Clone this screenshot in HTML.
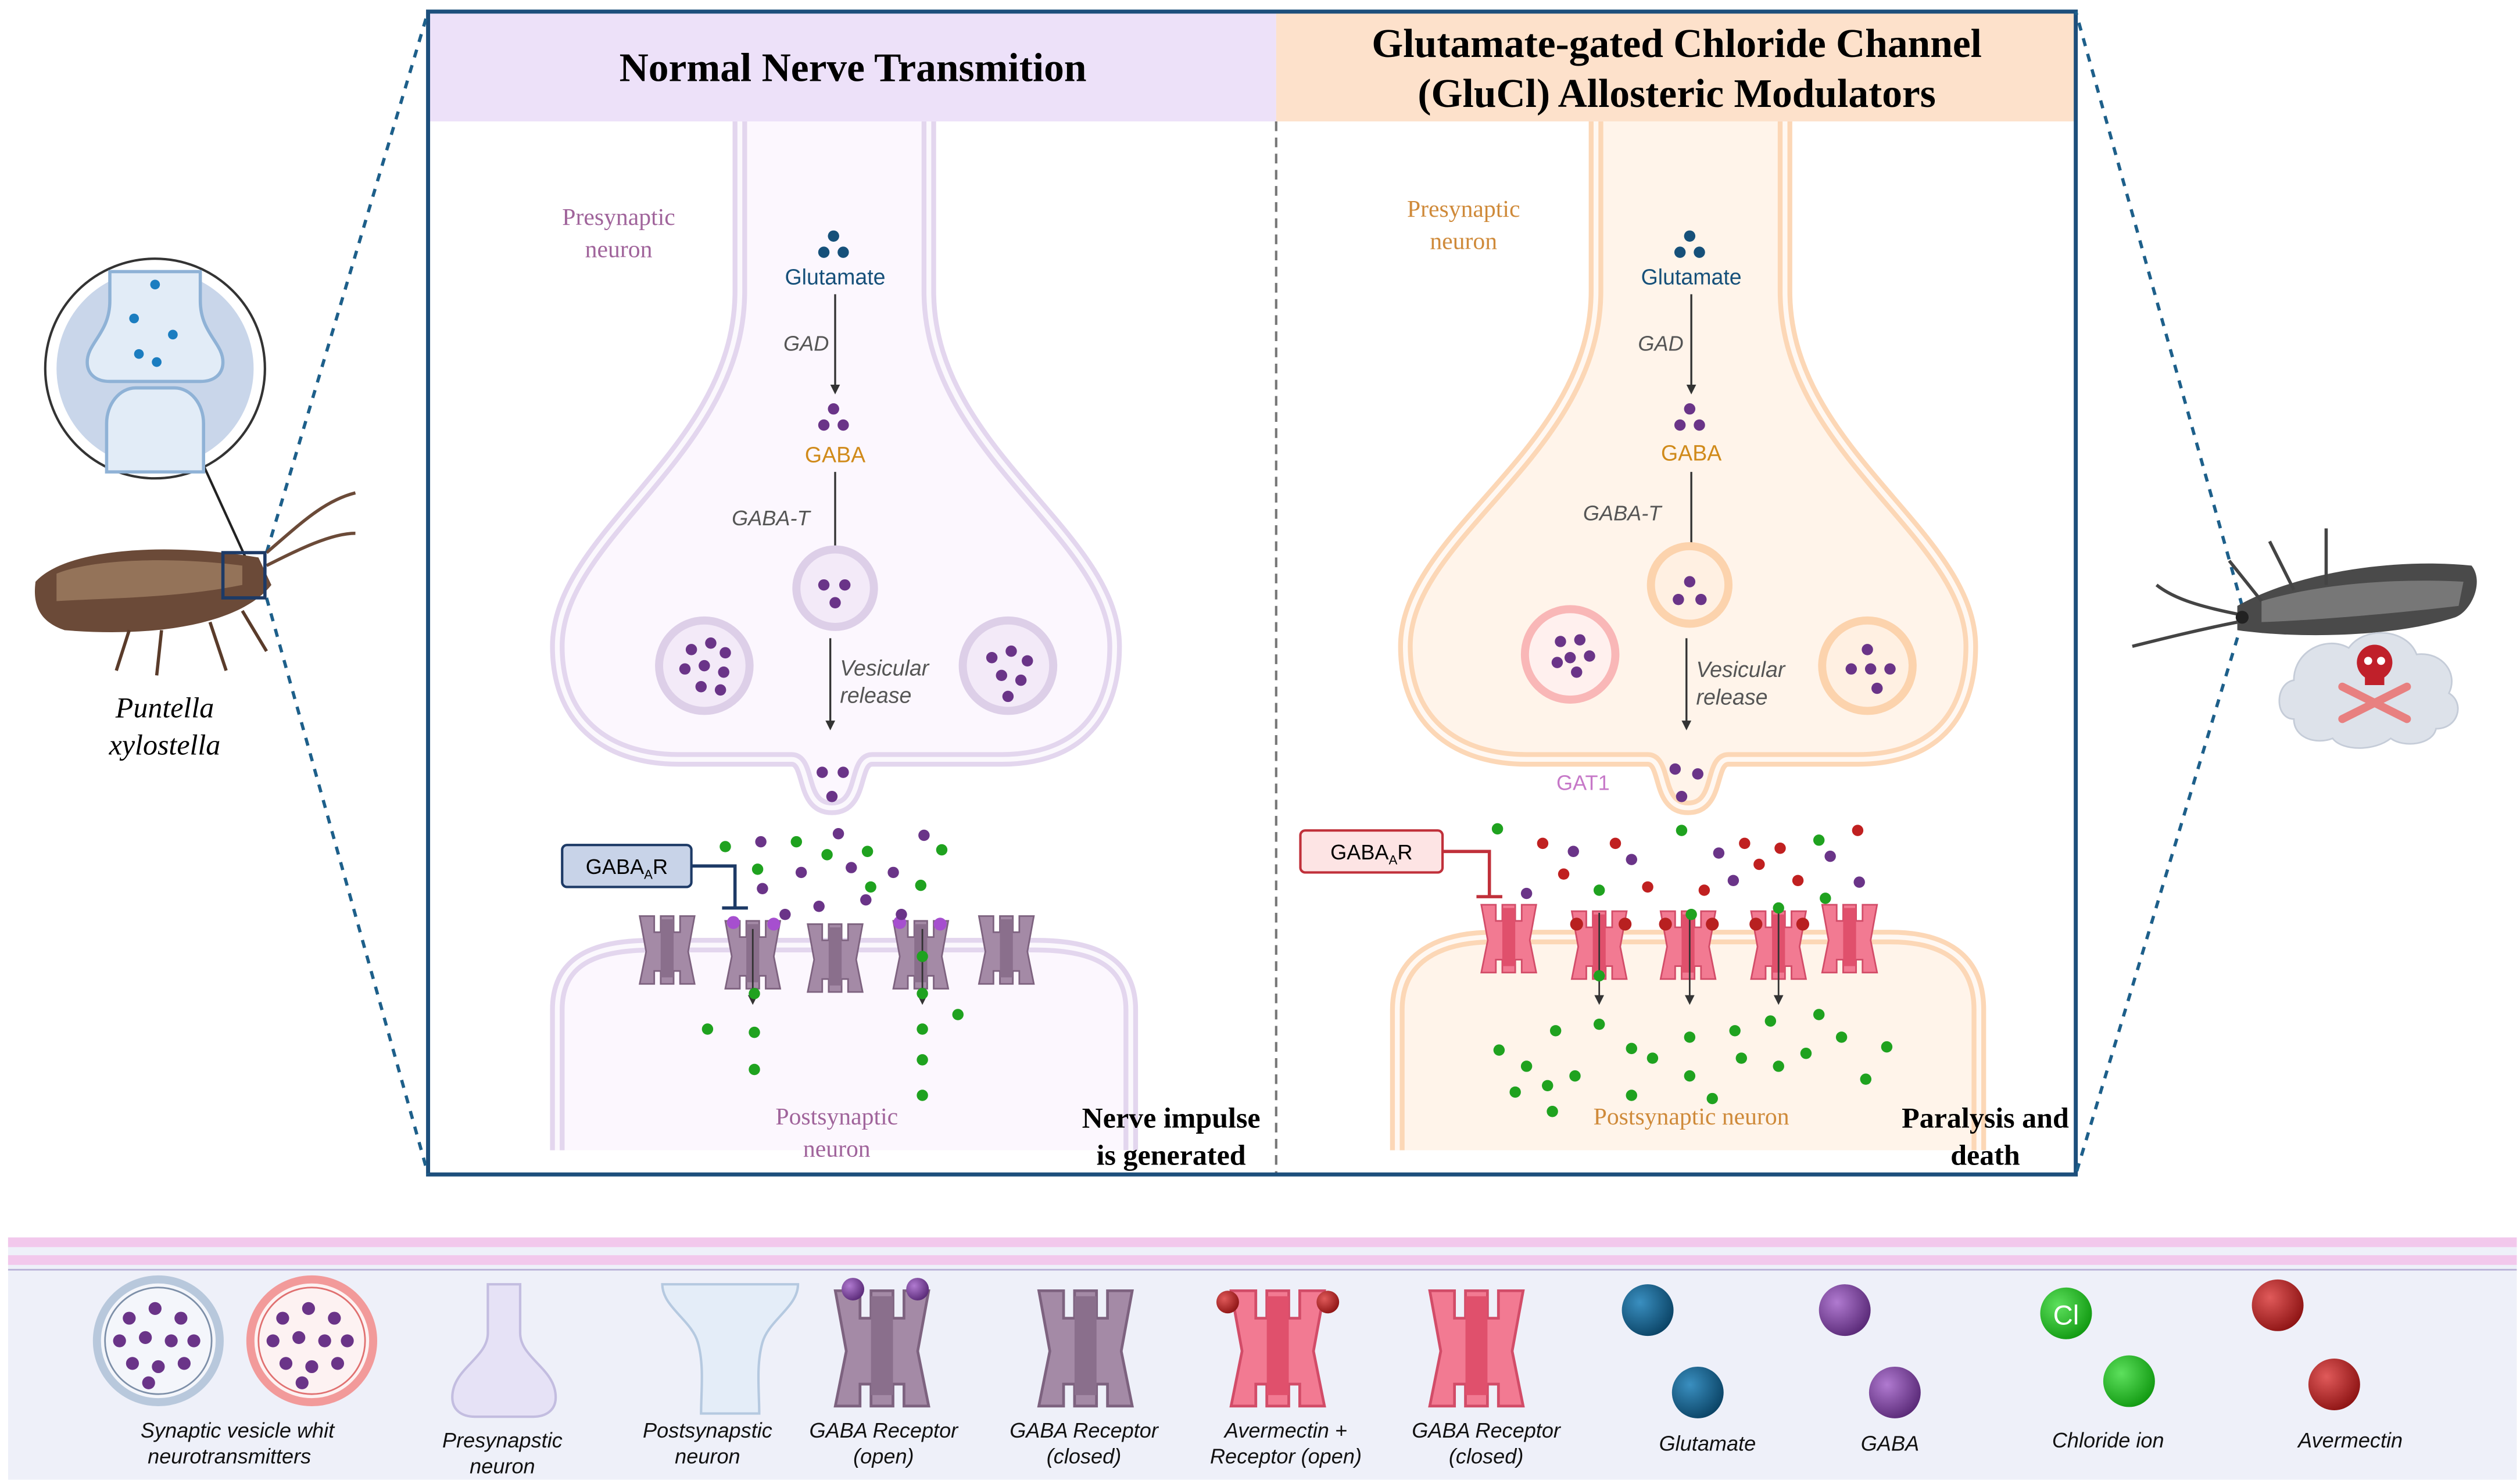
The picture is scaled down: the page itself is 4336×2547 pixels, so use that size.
<!DOCTYPE html>
<html><head><meta charset="utf-8"><style>
html,body{margin:0;padding:0;background:#fff;}
svg{display:block;}
text{font-family:"Liberation Sans",sans-serif;}
.serif{font-family:"Liberation Serif",serif;}
</style></head><body>
<svg width="4336" height="2547" viewBox="0 0 1560 916" xmlns="http://www.w3.org/2000/svg">
<defs>
<radialGradient id="gb" cx="35%" cy="35%" r="70%"><stop offset="0" stop-color="#3a8fc0"/><stop offset="1" stop-color="#0b4466"/></radialGradient>
<radialGradient id="gp" cx="35%" cy="35%" r="70%"><stop offset="0" stop-color="#b07ad0"/><stop offset="1" stop-color="#5a2a78"/></radialGradient>
<radialGradient id="gg" cx="35%" cy="35%" r="70%"><stop offset="0" stop-color="#5de05d"/><stop offset="1" stop-color="#129a12"/></radialGradient>
<radialGradient id="gr" cx="35%" cy="35%" r="70%"><stop offset="0" stop-color="#e05a5a"/><stop offset="1" stop-color="#8e1414"/></radialGradient>
<g id="rc"><path d="M-17,-20 h9 v10 h4 v-10 h8 v10 h4 v-10 h9 l-4,22 l4,20 h-9 v-8 h-4 v8 h-8 v-8 h-4 v8 h-9 l4,-20 z" fill="#a48aa6" stroke="#7d627f" stroke-width="1"/><rect x="-4" y="-18" width="8" height="36" fill="#8a6f8c"/></g>
<g id="rr"><path d="M-17,-20 h9 v10 h4 v-10 h8 v10 h4 v-10 h9 l-4,22 l4,20 h-9 v-8 h-4 v8 h-8 v-8 h-4 v8 h-9 l4,-20 z" fill="#f27a92" stroke="#d24c68" stroke-width="1"/><rect x="-4" y="-18" width="8" height="36" fill="#e0506c"/></g>
<path id="preL" d="M458,75 L458,180 C458,280 345,330 345,400 C345,450 380,470 420,470 L490,470 C502,470 495,500 515,500 C535,500 528,470 540,470 L620,470 C660,470 690,450 690,400 C690,330 575,280 575,180 L575,75"/>
<path id="postL" d="M345,712 L345,625 C345,592 372,585 405,585 L640,585 C672,585 700,592 700,625 L700,712"/>
<path id="preR" d="M988,75 L988,180 C988,280 870,330 870,400 C870,450 905,470 945,470 L1020,470 C1032,470 1025,500 1045,500 C1065,500 1058,470 1070,470 L1150,470 C1190,470 1220,450 1220,400 C1220,330 1105,280 1105,180 L1105,75"/>
<path id="postR" d="M865,712 L865,625 C865,592 892,580 925,580 L1170,580 C1202,580 1225,592 1225,625 L1225,712"/>
</defs>

<!-- main box -->
<rect x="265" y="7" width="525" height="68" fill="#ede1f9"/>
<rect x="790" y="7" width="495" height="68" fill="#fde1cb"/>
<rect x="265" y="75" width="1020" height="652" fill="#fff"/>
<text x="528" y="50" class="serif" font-size="25" font-weight="bold" text-anchor="middle" fill="#000">Normal Nerve Transmition</text>
<text x="1038" y="35" class="serif" font-size="25" font-weight="bold" text-anchor="middle">Glutamate-gated Chloride Channel</text>
<text x="1038" y="66" class="serif" font-size="25" font-weight="bold" text-anchor="middle">(GluCl) Allosteric Modulators</text>

<!-- neurons -->
<use href="#preL" fill="#fcf7fe" stroke="#e3d6ee" stroke-width="9"/>
<use href="#preL" fill="none" stroke="#fbf8fd" stroke-width="3"/>
<use href="#postL" fill="#fcf7fe" stroke="#e3d6ee" stroke-width="9"/>
<use href="#postL" fill="none" stroke="#fbf8fd" stroke-width="3"/>
<use href="#preR" fill="#fff4ea" stroke="#fcd7b6" stroke-width="9"/>
<use href="#preR" fill="none" stroke="#fff8f2" stroke-width="3"/>
<use href="#postR" fill="#fff4ea" stroke="#fcd7b6" stroke-width="9"/>
<use href="#postR" fill="none" stroke="#fff8f2" stroke-width="3"/>

<line x1="790" y1="75" x2="790" y2="727" stroke="#777" stroke-width="1.5" stroke-dasharray="6,4"/>
<rect x="265" y="7" width="1020" height="720" fill="none" stroke="#1d4f7c" stroke-width="2.5"/>

<!-- left pathway -->
<g fill="#16507a"><circle cx="516" cy="146" r="3.5"/><circle cx="510" cy="156" r="3.5"/><circle cx="522" cy="156" r="3.5"/></g>
<text x="517" y="176" font-size="13.5" text-anchor="middle" fill="#16507a">Glutamate</text>
<text x="485" y="217" font-size="13" font-style="italic" fill="#555">GAD</text>
<line x1="517" y1="182" x2="517" y2="240" stroke="#333" stroke-width="1.2"/><path d="M514,238 l3,6 l3,-6z" fill="#333"/>
<g fill="#6a3488"><circle cx="516" cy="253" r="3.5"/><circle cx="510" cy="263" r="3.5"/><circle cx="522" cy="263" r="3.5"/></g>
<text x="517" y="286" font-size="13.5" text-anchor="middle" fill="#d08a1a">GABA</text>
<text x="453" y="325" font-size="13" font-style="italic" fill="#555">GABA-T</text>
<line x1="517" y1="292" x2="517" y2="348" stroke="#333" stroke-width="1.2"/><path d="M514,346 l3,6 l3,-6z" fill="#333"/>
<circle cx="517" cy="364" r="24" fill="#f3eaf8" stroke="#ddcfe8" stroke-width="5"/>
<g fill="#6a3488"><circle cx="510" cy="362" r="3.5"/><circle cx="523" cy="362" r="3.5"/><circle cx="517" cy="373" r="3.5"/></g>
<circle cx="436" cy="412" r="28" fill="#f3eaf8" stroke="#ddcfe8" stroke-width="5"/>
<g fill="#6a3488"><circle cx="428" cy="402" r="3.5"/><circle cx="440" cy="398" r="3.5"/><circle cx="449" cy="404" r="3.5"/><circle cx="436" cy="412" r="3.5"/><circle cx="424" cy="414" r="3.5"/><circle cx="448" cy="416" r="3.5"/><circle cx="434" cy="425" r="3.5"/><circle cx="446" cy="427" r="3.5"/></g>
<circle cx="624" cy="412" r="28" fill="#f3eaf8" stroke="#ddcfe8" stroke-width="5"/>
<g fill="#6a3488"><circle cx="614" cy="407" r="3.5"/><circle cx="626" cy="403" r="3.5"/><circle cx="636" cy="409" r="3.5"/><circle cx="620" cy="418" r="3.5"/><circle cx="632" cy="421" r="3.5"/><circle cx="624" cy="431" r="3.5"/></g>
<line x1="514" y1="395" x2="514" y2="448" stroke="#333" stroke-width="1.2"/><path d="M511,446 l3,6 l3,-6z" fill="#333"/>
<text x="520" y="418" font-size="13.5" font-style="italic" fill="#555">Vesicular</text>
<text x="520" y="435" font-size="13.5" font-style="italic" fill="#555">release</text>
<text x="383" y="139" class="serif" font-size="15" text-anchor="middle" fill="#a0649b">Presynaptic</text>
<text x="383" y="159" class="serif" font-size="15" text-anchor="middle" fill="#a0649b">neuron</text>
<text x="518" y="696" class="serif" font-size="15" text-anchor="middle" fill="#a0649b">Postsynaptic</text>
<text x="518" y="716" class="serif" font-size="15" text-anchor="middle" fill="#a0649b">neuron</text>
<text x="725" y="698" class="serif" font-size="18" font-weight="bold" text-anchor="middle">Nerve impulse</text>
<text x="725" y="721" class="serif" font-size="18" font-weight="bold" text-anchor="middle">is generated</text>
<rect x="348" y="523" width="80" height="26" rx="3" fill="#c8d3e8" stroke="#1d3a66" stroke-width="1.5"/>
<text x="388" y="541" font-size="13" text-anchor="middle">GABA<tspan font-size="8" dy="3">A</tspan><tspan dy="-3">R</tspan></text>
<path d="M428,536 H455 V562 M447,562 H463" fill="none" stroke="#1d3a66" stroke-width="2"/>
<use href="#rc" x="413" y="587"/><use href="#rc" x="466" y="590"/><use href="#rc" x="517" y="592"/><use href="#rc" x="570" y="590"/><use href="#rc" x="623" y="587"/>
<g fill="#a64fcf"><circle cx="454" cy="571" r="4"/><circle cx="479" cy="572" r="4"/><circle cx="557" cy="571" r="4"/><circle cx="582" cy="572" r="4"/></g>
<line x1="466" y1="575" x2="466" y2="618" stroke="#333"/><path d="M463,616 l3,6 l3,-6z" fill="#333"/>
<line x1="571" y1="575" x2="571" y2="618" stroke="#333"/><path d="M568,616 l3,6 l3,-6z" fill="#333"/>
<g fill="#6a3488"><circle cx="509" cy="478" r="3.5"/><circle cx="522" cy="478" r="3.5"/><circle cx="515" cy="493" r="3.5"/><circle cx="471" cy="521" r="3.5"/><circle cx="519" cy="516" r="3.5"/><circle cx="572" cy="517" r="3.5"/><circle cx="496" cy="540" r="3.5"/><circle cx="527" cy="537" r="3.5"/><circle cx="553" cy="540" r="3.5"/><circle cx="472" cy="550" r="3.5"/><circle cx="536" cy="557" r="3.5"/><circle cx="507" cy="561" r="3.5"/><circle cx="558" cy="566" r="3.5"/><circle cx="486" cy="566" r="3.5"/></g>
<g fill="#1fa21f"><circle cx="449" cy="524" r="3.5"/><circle cx="493" cy="521" r="3.5"/><circle cx="537" cy="527" r="3.5"/><circle cx="583" cy="526" r="3.5"/><circle cx="469" cy="538" r="3.5"/><circle cx="512" cy="529" r="3.5"/><circle cx="570" cy="548" r="3.5"/><circle cx="539" cy="549" r="3.5"/><circle cx="467" cy="615" r="3.5"/><circle cx="438" cy="637" r="3.5"/><circle cx="467" cy="639" r="3.5"/><circle cx="467" cy="662" r="3.5"/><circle cx="571" cy="592" r="3.5"/><circle cx="571" cy="615" r="3.5"/><circle cx="593" cy="628" r="3.5"/><circle cx="571" cy="637" r="3.5"/><circle cx="571" cy="656" r="3.5"/><circle cx="571" cy="678" r="3.5"/></g>

<!-- right pathway -->
<g fill="#16507a"><circle cx="1046" cy="146" r="3.5"/><circle cx="1040" cy="156" r="3.5"/><circle cx="1052" cy="156" r="3.5"/></g>
<text x="1047" y="176" font-size="13.5" text-anchor="middle" fill="#16507a">Glutamate</text>
<text x="1014" y="217" font-size="13" font-style="italic" fill="#555">GAD</text>
<line x1="1047" y1="182" x2="1047" y2="240" stroke="#333" stroke-width="1.2"/><path d="M1044,238 l3,6 l3,-6z" fill="#333"/>
<g fill="#6a3488"><circle cx="1046" cy="253" r="3.5"/><circle cx="1040" cy="263" r="3.5"/><circle cx="1052" cy="263" r="3.5"/></g>
<text x="1047" y="285" font-size="13.5" text-anchor="middle" fill="#d08a1a">GABA</text>
<text x="980" y="322" font-size="13" font-style="italic" fill="#555">GABA-T</text>
<line x1="1047" y1="292" x2="1047" y2="348" stroke="#333" stroke-width="1.2"/><path d="M1044,346 l3,6 l3,-6z" fill="#333"/>
<circle cx="1046" cy="362" r="24" fill="#fff0e2" stroke="#fcd3ad" stroke-width="5"/>
<g fill="#6a3488"><circle cx="1046" cy="360" r="3.5"/><circle cx="1039" cy="371" r="3.5"/><circle cx="1053" cy="371" r="3.5"/></g>
<circle cx="972" cy="405" r="28" fill="#fff0ee" stroke="#f9b7b7" stroke-width="5"/>
<g fill="#6a3488"><circle cx="966" cy="397" r="3.5"/><circle cx="978" cy="396" r="3.5"/><circle cx="984" cy="406" r="3.5"/><circle cx="972" cy="407" r="3.5"/><circle cx="964" cy="410" r="3.5"/><circle cx="976" cy="416" r="3.5"/></g>
<circle cx="1156" cy="412" r="28" fill="#fff0e2" stroke="#fcd3ad" stroke-width="5"/>
<g fill="#6a3488"><circle cx="1156" cy="402" r="3.5"/><circle cx="1146" cy="414" r="3.5"/><circle cx="1158" cy="414" r="3.5"/><circle cx="1170" cy="414" r="3.5"/><circle cx="1162" cy="426" r="3.5"/></g>
<line x1="1044" y1="395" x2="1044" y2="448" stroke="#333" stroke-width="1.2"/><path d="M1041,446 l3,6 l3,-6z" fill="#333"/>
<text x="1050" y="419" font-size="13.5" font-style="italic" fill="#555">Vesicular</text>
<text x="1050" y="436" font-size="13.5" font-style="italic" fill="#555">release</text>
<text x="906" y="134" class="serif" font-size="15" text-anchor="middle" fill="#cf8a3a">Presynaptic</text>
<text x="906" y="154" class="serif" font-size="15" text-anchor="middle" fill="#cf8a3a">neuron</text>
<text x="980" y="489" font-size="13" text-anchor="middle" fill="#c678c8">GAT1</text>
<text x="1047" y="696" class="serif" font-size="15" text-anchor="middle" fill="#cf8a3a">Postsynaptic neuron</text>
<text x="1229" y="698" class="serif" font-size="18" font-weight="bold" text-anchor="middle">Paralysis and</text>
<text x="1229" y="721" class="serif" font-size="18" font-weight="bold" text-anchor="middle">death</text>
<rect x="805" y="514" width="88" height="26" rx="3" fill="#fde4e4" stroke="#c0303a" stroke-width="1.5"/>
<text x="849" y="532" font-size="13" text-anchor="middle">GABA<tspan font-size="8" dy="3">A</tspan><tspan dy="-3">R</tspan></text>
<path d="M893,527 H922 V555 M914,555 H930" fill="none" stroke="#c0303a" stroke-width="2"/>
<use href="#rr" x="934" y="580"/><use href="#rr" x="990" y="584"/><use href="#rr" x="1045" y="584"/><use href="#rr" x="1101" y="584"/><use href="#rr" x="1145" y="580"/>
<g fill="#b82020"><circle cx="976" cy="572" r="4"/><circle cx="1006" cy="572" r="4"/><circle cx="1031" cy="572" r="4"/><circle cx="1060" cy="572" r="4"/><circle cx="1087" cy="572" r="4"/><circle cx="1116" cy="572" r="4"/></g>
<line x1="990" y1="565" x2="990" y2="618" stroke="#333"/><path d="M987,616 l3,6 l3,-6z" fill="#333"/>
<line x1="1046" y1="565" x2="1046" y2="618" stroke="#333"/><path d="M1043,616 l3,6 l3,-6z" fill="#333"/>
<line x1="1101" y1="565" x2="1101" y2="618" stroke="#333"/><path d="M1098,616 l3,6 l3,-6z" fill="#333"/>
<g fill="#6a3488"><circle cx="1037" cy="476" r="3.5"/><circle cx="1051" cy="479" r="3.5"/><circle cx="1041" cy="493" r="3.5"/><circle cx="945" cy="553" r="3.5"/><circle cx="974" cy="527" r="3.5"/><circle cx="1010" cy="532" r="3.5"/><circle cx="1064" cy="528" r="3.5"/><circle cx="1073" cy="545" r="3.5"/><circle cx="1133" cy="530" r="3.5"/><circle cx="1151" cy="546" r="3.5"/></g>
<g fill="#c02020"><circle cx="955" cy="522" r="3.5"/><circle cx="1000" cy="522" r="3.5"/><circle cx="1080" cy="522" r="3.5"/><circle cx="1102" cy="525" r="3.5"/><circle cx="1150" cy="514" r="3.5"/><circle cx="1020" cy="549" r="3.5"/><circle cx="1055" cy="551" r="3.5"/><circle cx="1089" cy="535" r="3.5"/><circle cx="1113" cy="545" r="3.5"/><circle cx="968" cy="541" r="3.5"/></g>
<g fill="#1fa21f"><circle cx="927" cy="513" r="3.5"/><circle cx="1041" cy="514" r="3.5"/><circle cx="1126" cy="520" r="3.5"/><circle cx="990" cy="551" r="3.5"/><circle cx="1047" cy="566" r="3.5"/><circle cx="1101" cy="562" r="3.5"/><circle cx="1130" cy="556" r="3.5"/><circle cx="990" cy="604" r="3.5"/><circle cx="990" cy="634" r="3.5"/><circle cx="963" cy="638" r="3.5"/><circle cx="1010" cy="649" r="3.5"/><circle cx="1023" cy="655" r="3.5"/><circle cx="1046" cy="642" r="3.5"/><circle cx="1074" cy="638" r="3.5"/><circle cx="1096" cy="632" r="3.5"/><circle cx="1126" cy="628" r="3.5"/><circle cx="1140" cy="642" r="3.5"/><circle cx="1168" cy="648" r="3.5"/><circle cx="928" cy="650" r="3.5"/><circle cx="945" cy="660" r="3.5"/><circle cx="975" cy="666" r="3.5"/><circle cx="938" cy="676" r="3.5"/><circle cx="958" cy="672" r="3.5"/><circle cx="1046" cy="666" r="3.5"/><circle cx="1078" cy="655" r="3.5"/><circle cx="1101" cy="660" r="3.5"/><circle cx="1118" cy="652" r="3.5"/><circle cx="1155" cy="668" r="3.5"/><circle cx="1010" cy="678" r="3.5"/><circle cx="1060" cy="680" r="3.5"/><circle cx="961" cy="688" r="3.5"/></g>

<!-- dashed zoom lines -->
<g stroke="#1d5f8a" stroke-width="2" stroke-dasharray="5,5" fill="none">
<line x1="165" y1="342" x2="265" y2="7"/><line x1="165" y1="370" x2="265" y2="727"/>
<line x1="1388" y1="375" x2="1285" y2="7"/><line x1="1388" y1="385" x2="1285" y2="727"/>
</g>

<!-- magnifier -->
<line x1="126" y1="288" x2="152" y2="345" stroke="#222" stroke-width="1.5"/>
<circle cx="96" cy="228" r="68" fill="#fff" stroke="#333" stroke-width="1.5"/>
<circle cx="96" cy="228" r="61" fill="#c9d6ea"/>
<path d="M68,168 v18 c0,20 -14,26 -14,38 c0,8 6,12 14,12 h56 c8,0 14,-4 14,-12 c0,-12 -14,-18 -14,-38 v-18z" fill="#e2ecf7" stroke="#8fb2d6" stroke-width="2"/>
<path d="M66,292 v-30 c0,-12 8,-22 18,-22 h24 c10,0 18,10 18,22 v30z" fill="#e2ecf7" stroke="#8fb2d6" stroke-width="2"/>
<g fill="#1b7dc0"><circle cx="96" cy="176" r="3"/><circle cx="83" cy="197" r="3"/><circle cx="107" cy="207" r="3"/><circle cx="86" cy="219" r="3"/><circle cx="97" cy="224" r="3"/></g>

<!-- left moth -->
<path d="M22,360 C40,340 100,335 160,345 L168,362 C150,385 100,395 40,390 C25,385 20,375 22,360z" fill="#6b4a38"/>
<path d="M35,355 C60,345 110,345 150,350 L150,362 C110,370 70,370 35,372z" fill="#a58468" opacity="0.7"/>
<path d="M80,390 l-8,25 M100,390 l-3,28 M130,385 l10,30 M150,378 l15,25" stroke="#5a3b2a" stroke-width="2" fill="none"/>
<path d="M165,342 C185,325 200,310 220,305 M165,350 C185,340 205,330 220,330" stroke="#6b4a38" stroke-width="2" fill="none"/>
<rect x="138" y="342" width="26" height="28" fill="none" stroke="#1d3a66" stroke-width="2"/>
<text x="102" y="444" class="serif" font-size="18" font-style="italic" text-anchor="middle">Puntella</text>
<text x="102" y="467" class="serif" font-size="18" font-style="italic" text-anchor="middle">xylostella</text>

<!-- right moth -->
<path d="M1385,375 C1420,355 1480,345 1530,350 C1538,360 1530,378 1520,382 C1480,395 1420,395 1385,390z" fill="#4a4a4a"/>
<path d="M1400,372 C1440,360 1490,358 1525,360 L1522,375 C1480,380 1430,384 1400,385z" fill="#8a8a8a" opacity="0.7"/>
<path d="M1385,385 C1360,390 1340,395 1320,400 M1385,380 C1360,375 1345,370 1335,362 M1400,372 l-20,-25 M1420,365 l-15,-30 M1440,362 l0,-35" stroke="#444" stroke-width="2" fill="none"/>
<circle cx="1388" cy="382" r="4" fill="#222"/>
<path d="M1420,445 c-12,0 -12,-22 0,-24 c0,-18 20,-28 34,-20 c10,-14 36,-12 42,4 c16,-2 26,12 20,24 c10,6 6,22 -8,22 c-2,10 -20,12 -28,6 c-10,8 -30,8 -36,0 c-10,4 -24,0 -24,-12z" fill="#dde2ea" stroke="#c5ccd8"/>
<circle cx="1470" cy="410" r="11" fill="#c0202a"/><rect x="1464" y="418" width="12" height="6" fill="#c0202a"/>
<circle cx="1466" cy="409" r="2.5" fill="#fff"/><circle cx="1474" cy="409" r="2.5" fill="#fff"/>
<path d="M1450,425 L1490,445 M1490,425 L1450,445" stroke="#e88080" stroke-width="5" stroke-linecap="round"/>

<!-- legend -->
<rect x="5" y="766" width="1553" height="150" fill="#eef0f9"/>
<rect x="5" y="766" width="1553" height="6" fill="#f2c8ec"/>
<rect x="5" y="777" width="1553" height="6" fill="#f2c8ec"/>
<line x1="5" y1="786" x2="1558" y2="786" stroke="#b7b0d6" stroke-width="1"/>
<circle cx="98" cy="830" r="38" fill="#f4f6fb" stroke="#b8c8dc" stroke-width="5"/>
<circle cx="98" cy="830" r="33" fill="none" stroke="#7d8fa8" stroke-width="1"/>
<g fill="#6a3488"><circle cx="80" cy="816" r="4"/><circle cx="96" cy="810" r="4"/><circle cx="112" cy="816" r="4"/><circle cx="74" cy="830" r="4"/><circle cx="90" cy="828" r="4"/><circle cx="106" cy="830" r="4"/><circle cx="120" cy="830" r="4"/><circle cx="82" cy="844" r="4"/><circle cx="98" cy="846" r="4"/><circle cx="114" cy="844" r="4"/><circle cx="92" cy="856" r="4"/></g>
<circle cx="193" cy="830" r="38" fill="#fdf2f2" stroke="#f29a9a" stroke-width="5"/>
<circle cx="193" cy="830" r="33" fill="none" stroke="#e07070" stroke-width="1"/>
<g fill="#6a3488"><circle cx="175" cy="816" r="4"/><circle cx="191" cy="810" r="4"/><circle cx="207" cy="816" r="4"/><circle cx="169" cy="830" r="4"/><circle cx="185" cy="828" r="4"/><circle cx="201" cy="830" r="4"/><circle cx="215" cy="830" r="4"/><circle cx="177" cy="844" r="4"/><circle cx="193" cy="846" r="4"/><circle cx="209" cy="844" r="4"/><circle cx="187" cy="856" r="4"/></g>
<path d="M302,795 v30 c0,16 -22,22 -22,40 c0,8 6,12 14,12 h36 c8,0 14,-4 14,-12 c0,-18 -22,-24 -22,-40 v-30z" fill="#e6e2f6" stroke="#c3bde0" stroke-width="1.5"/>
<path d="M410,795 h84 c0,14 -18,22 -22,36 c-4,14 -2,30 -2,44 h-36 c0,-14 2,-30 -2,-44 c-4,-14 -22,-22 -22,-36z" fill="#e4edf8" stroke="#b5c9e0" stroke-width="1.5"/>
<g transform="translate(546,833) scale(1.7)"><use href="#rc"/></g>
<circle cx="528" cy="798" r="7" fill="url(#gp)"/><circle cx="568" cy="798" r="7" fill="url(#gp)"/>
<g transform="translate(672,833) scale(1.7)"><use href="#rc"/></g>
<g transform="translate(791,833) scale(1.7)"><use href="#rr"/></g>
<circle cx="760" cy="806" r="7" fill="url(#gr)"/><circle cx="822" cy="806" r="7" fill="url(#gr)"/>
<g transform="translate(914,833) scale(1.7)"><use href="#rr"/></g>
<circle cx="1020" cy="811" r="16" fill="url(#gb)"/><circle cx="1051" cy="862" r="16" fill="url(#gb)"/>
<circle cx="1142" cy="811" r="16" fill="url(#gp)"/><circle cx="1173" cy="862" r="16" fill="url(#gp)"/>
<circle cx="1279" cy="813" r="16" fill="url(#gg)"/><text x="1279" y="820" font-size="17" text-anchor="middle" fill="#fff">Cl</text>
<circle cx="1318" cy="855" r="16" fill="url(#gg)"/>
<circle cx="1410" cy="808" r="16" fill="url(#gr)"/><circle cx="1445" cy="857" r="16" fill="url(#gr)"/>
<g font-size="13" font-style="italic" text-anchor="middle" fill="#111">
<text x="147" y="890">Synaptic vesicle whit</text><text x="142" y="906">neurotransmitters</text>
<text x="311" y="896">Presynapstic</text><text x="311" y="912">neuron</text>
<text x="438" y="890">Postsynapstic</text><text x="438" y="906">neuron</text>
<text x="547" y="890">GABA Receptor</text><text x="547" y="906">(open)</text>
<text x="671" y="890">GABA Receptor</text><text x="671" y="906">(closed)</text>
<text x="796" y="890">Avermectin +</text><text x="796" y="906">Receptor (open)</text>
<text x="920" y="890">GABA Receptor</text><text x="920" y="906">(closed)</text>
<text x="1057" y="898">Glutamate</text>
<text x="1170" y="898">GABA</text>
<text x="1305" y="896">Chloride ion</text>
<text x="1455" y="896">Avermectin</text>
</g>
</svg>
</body></html>
